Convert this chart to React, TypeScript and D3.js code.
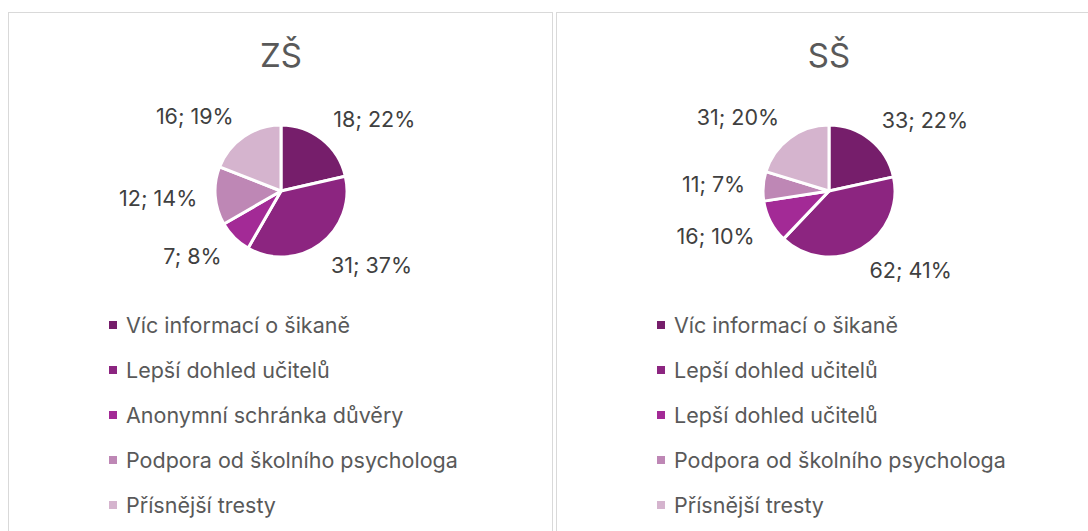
import React from 'react';
import * as d3 from 'd3';

// ZŠ data
const categoriesZS = ['Víc informací o šikaně', 'Lepší dohled učitelů', 'Anonymní schránka důvěry', 'Podpora od školního psychologa', 'Přísnější tresty'];
const valuesZS = [18, 31, 7, 12, 16];
const percentZS = [22, 37, 8, 14, 19];

// SŠ data
const categoriesSS = ['Víc informací o šikaně', 'Lepší dohled učitelů', 'Lepší dohled učitelů', 'Podpora od školního psychologa', 'Přísnější tresty'];
const valuesSS = [33, 62, 16, 11, 31];
const percentSS = [22, 41, 10, 7, 20];

const colors = ['#761E6B', '#8C2580', '#A32A96', '#BE87B5', '#D5B4CE'];

const font = 'Inter, "Open Sans", sans-serif';
const labelSize = 21.5;

// measure label width so it can be pushed outside the pie like excel does
let ctx: CanvasRenderingContext2D | null = null;
const textWidth = (s: string) => {
    if (!ctx) ctx = document.createElement('canvas').getContext('2d');
    if (!ctx) return s.length * labelSize * 0.55;
    ctx.font = `${labelSize}px Inter`;
    return ctx.measureText(s).width;
};

const clamp = (v: number) => Math.max(-1, Math.min(1, v));

const PiePanel = (props: {x: number, title: string, categories: string[], values: number[], percents: number[]}) => {
    const {x, title, categories, values, percents} = props;
    const cx = x + 273;
    const cy = 191;
    const r = 66;
    const anchorR = 84;
    const boxH = 12;

    const pie = d3.pie<number>().sort(null).value(d => d);
    const arcs = pie(values);
    const arc = d3.arc<d3.PieArcDatum<number>>().innerRadius(0).outerRadius(r);

    const legendY = d3.scalePoint<number>().domain(d3.range(categories.length)).range([325, 505]);

    return (
        <g>
            <rect x={x + 0.5} y={12.5} width={544} height={540} fill="#fff" stroke="#D9D9D9" />
            <text x={cx} y={67} textAnchor="middle" fontSize={33} fill="#595959" style={{fontFamily: font}}>{title}</text>
            <g transform={`translate(${cx},${cy})`}>
                {arcs.map((a, i) => (
                    <path key={i} d={arc(a) || ''} fill={colors[i]} stroke="#fff" strokeWidth={3} strokeLinejoin="round" />
                ))}
                {arcs.map((a, i) => {
                    const label = `${values[i]}; ${percents[i]}%`;
                    const mid = (a.startAngle + a.endAngle) / 2;
                    const dx = Math.sin(mid), dy = -Math.cos(mid);
                    const w = textWidth(label);
                    const lx = anchorR * dx + clamp(dx * 2) * w / 2;
                    const ly = anchorR * dy + clamp(dy * 2) * boxH / 2;
                    return (
                        <text key={'l' + i} x={lx} y={ly} textAnchor="middle" dominantBaseline="central"
                            fontSize={labelSize} fill="#404040" style={{fontFamily: font}}>
                            {label}
                        </text>
                    );
                })}
            </g>
            {categories.map((c, i) => (
                <g key={'lg' + i} transform={`translate(${cx - 172},${legendY(i)})`}>
                    <rect x={0} y={-4} width={8} height={8} fill={colors[i]} />
                    <text x={17} y={0} dominantBaseline="central" fontSize={21.5} fill="#595959" style={{fontFamily: font}}>{c}</text>
                </g>
            ))}
        </g>
    );
};

const App = () => {
    return (
        <svg width={1088} height={531} style={{position: 'fixed', left: 0, top: 0, background: '#fff'}}>
            <PiePanel x={8} title="ZŠ" categories={categoriesZS} values={valuesZS} percents={percentZS} />
            <PiePanel x={556} title="SŠ" categories={categoriesSS} values={valuesSS} percents={percentSS} />
        </svg>
    );
};

export default App;
